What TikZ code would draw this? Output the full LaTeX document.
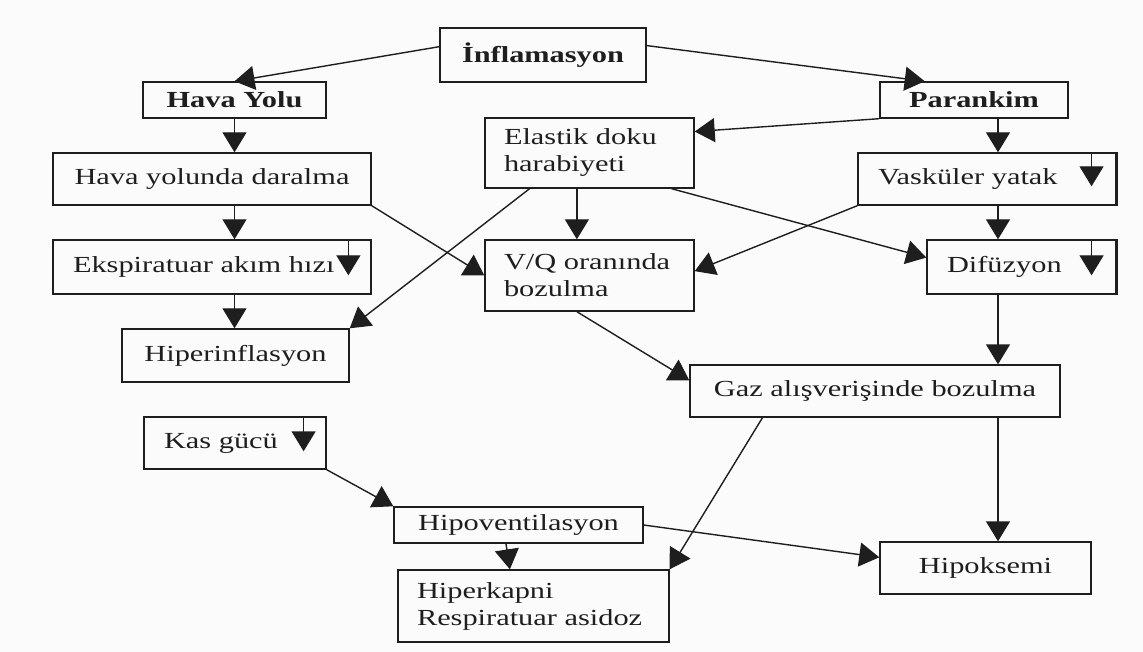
\documentclass[tikz,border=0pt]{standalone}
\usepackage{fontspec}
\setmainfont{Liberation Serif}[FakeStretch=1.32]
\usetikzlibrary{arrows.meta,calc}
\definecolor{ink}{HTML}{1E1E1E}
\definecolor{paper}{HTML}{FBFBFB}
\begin{document}
\begin{tikzpicture}[x=1pt,y=-1pt,
  every node/.style={font=\fontsize{23}{27}\selectfont, text=ink},
  bx/.style={draw=ink, line width=1.4pt, inner ysep=0pt, inner xsep=20pt, rectangle},
  arr/.style={draw=ink, line width=1.4pt, -{Triangle[length=20pt,width=24pt]}},
  ln/.style={draw=ink, line width=1.4pt}]
\fill[paper] (0,0) rectangle (1143,652);
\useasboundingbox (0,0) rectangle (1143,652);

\node[bx, minimum width=206pt, minimum height=54pt, text width=166pt, align=center, font=\fontsize{23}{27}\selectfont\bfseries] (inf) at (543,55) {İnflamasyon};
\node[bx, minimum width=183pt, minimum height=36pt, text width=143pt, align=center, font=\fontsize{23}{27}\selectfont\bfseries] (hy) at (234.5,100) {Hava Yolu};
\node[bx, minimum width=188pt, minimum height=36pt, text width=148pt, align=center, font=\fontsize{23}{27}\selectfont\bfseries] (par) at (974,100) {Parankim};
\node[bx, minimum width=318pt, minimum height=52pt, text width=278pt, align=center] (hyd) at (212,179) {Hava yolunda daralma};
\node[bx, minimum width=318pt, minimum height=54pt, text width=278pt, align=left] (eks) at (212,267) {Ekspiratuar akım hızı};
\node[bx, minimum width=227pt, minimum height=53pt, text width=187pt, align=center] (hip) at (235.5,355.5) {Hiperinflasyon};
\node[bx, minimum width=209pt, minimum height=70pt, text width=171pt, inner xsep=19pt, align=left] (ela) at (589.5,153) {Elastik doku\\harabiyeti};
\node[bx, minimum width=258pt, minimum height=52pt, text width=218pt, align=left] (vas) at (987,179) {Vasküler yatak};
\node[bx, minimum width=189pt, minimum height=54pt, text width=149pt, align=left] (dif) at (1021.5,267) {Difüzyon};
\node[bx, minimum width=209pt, minimum height=71pt, text width=171pt, inner xsep=19pt, align=left] (vq) at (589.5,275.5) {V/Q oranında\\bozulma};
\node[bx, minimum width=370pt, minimum height=52pt, text width=330pt, align=center] (gaz) at (875,391) {Gaz alışverişinde bozulma};
\node[bx, minimum width=182pt, minimum height=52pt, text width=142pt, inner xsep=20pt, align=left] (kas) at (235,443) {Kas gücü};
\node[bx, minimum width=249pt, minimum height=36pt, text width=211pt, inner xsep=19pt, align=center] (hv) at (518.5,525) {Hipoventilasyon};
\node[bx, minimum width=271pt, minimum height=72pt, text width=233pt, inner xsep=19pt, align=left] (hk) at (533.5,606) {Hiperkapni\\Respiratuar asidoz};
\node[bx, minimum width=211pt, minimum height=52pt, text width=171pt, align=center] (hpk) at (985.5,568) {Hipoksemi};

% thick right edges
\draw[ln, line width=2.6pt] (vas.north east) -- (vas.south east);
\draw[ln, line width=2.6pt] (dif.north east) -- (dif.south east);

% helper coordinates
\coordinate (colx) at (998,0);
\coordinate (elax) at ($(ela.south west)!0.44!(ela.south east)$);

% connectors
\draw[arr] ($(inf.north west)!0.35!(inf.south west)$) -- (hy.north);
\draw[arr] ($(inf.north east)!0.33!(inf.south east)$) -- ($(par.north west)!0.24!(par.north east)$);
\draw[arr] (hy.south) -- (hyd.north -| hy.south);
\draw[arr] (hyd.south -| hy.south) -- (eks.north -| hy.south);
\draw[arr] (eks.south -| hy.south) -- (hip.north -| hy.south);
\draw[arr] (par.south -| colx) -- (vas.north -| colx);
\draw[arr] (vas.south -| colx) -- (dif.north -| colx);
\draw[arr] (dif.south -| colx) -- (gaz.north -| colx);
\draw[arr] (gaz.south -| colx) -- (hpk.north -| colx);
\draw[arr] (par.south west) -- ($(ela.north east)!0.2!(ela.south east)$);
\draw[arr] (elax) -- (vq.north -| elax);
\draw[arr] (hyd.south east) -- (vq.west);
\draw[arr] ($(ela.south west)!0.215!(ela.south east)$) -- (hip.north east);
\draw[arr] ($(ela.south west)!0.89!(ela.south east)$) -- ($(dif.north west)!0.33!(dif.south west)$);
\draw[arr] (vas.south west) -- ($(vq.north east)!0.44!(vq.south east)$);
\draw[arr] (vq.south -| elax) -- ($(gaz.north west)!0.3!(gaz.south west)$);
\draw[arr] ($(gaz.south west)!0.197!(gaz.south east)$) -- (hk.north east);
\draw[arr] (kas.south east) -- (hv.north west);
\draw[arr] ($(hv.south west)!0.45!(hv.south east)$) -- ($(hk.north west)!0.4133!(hk.north east)$);
\draw[arr] (hv.east) -- ($(hpk.north west)!0.3!(hpk.south west)$);

% small "decrease" arrows inside boxes
\coordinate (eksd) at ($(eks.north west)!0.927!(eks.north east)$);
\coordinate (vasd) at ($(vas.north west)!0.903!(vas.north east)$);
\coordinate (difd) at ($(dif.north west)!0.868!(dif.north east)$);
\coordinate (kasd) at ($(kas.north west)!0.874!(kas.north east)$);
\draw[arr] (eksd) -- ++(0,36);
\draw[arr] (vasd) -- ++(0,34);
\draw[arr] (difd) -- ++(0,36);
\draw[arr] (kasd) -- ++(0,35);
\end{tikzpicture}
\end{document}
